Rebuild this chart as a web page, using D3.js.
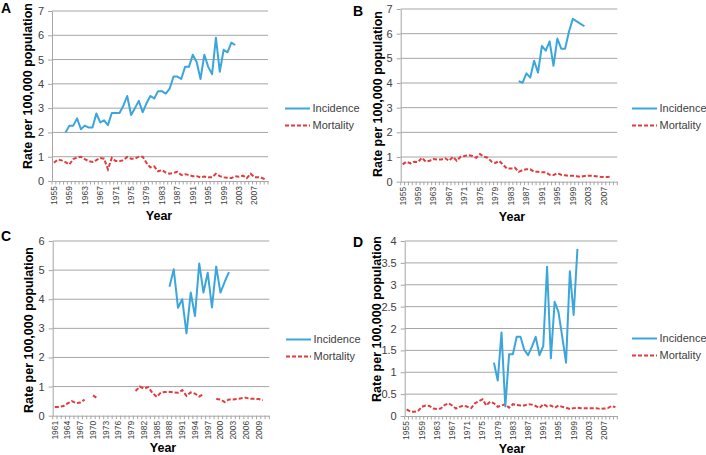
<!DOCTYPE html>
<html>
<head>
<meta charset="utf-8">
<script src="https://cdn.jsdelivr.net/npm/d3@7"></script>
<style>
  body { margin: 0; background: #fff; }
  text { font-family: "Liberation Sans", Arial, sans-serif; }
</style>
</head>
<body>
<div id="plot"></div>
<script>
// category slots on the year axis
const yearsABD = d3.range(1955, 2011);
const yearsC = d3.range(1961, 2012);

// tick labels
const labelsABD = [1955, 1959, 1963, 1967, 1971, 1975, 1979, 1983, 1987, 1991, 1995, 1999, 2003, 2007];
const labelsC = [1961, 1964, 1967, 1970, 1973, 1976, 1979, 1982, 1985, 1988, 1991, 1994, 1997, 2000, 2003, 2006, 2009];
const ticks07 = [0, 1, 2, 3, 4, 5, 6, 7];
const ticks06 = [0, 1, 2, 3, 4, 5, 6];
const ticks04 = [0, 0.5, 1, 1.5, 2, 2.5, 3, 3.5, 4];

// panel A (incidence from 1958, mortality from 1955)
const incidenceA = [2.0, 2.28, 2.28, 2.58, 2.13, 2.28, 2.2, 2.2, 2.78, 2.41, 2.5, 2.3, 2.8, 2.8, 2.8,
  3.1, 3.5, 2.72, 3.0, 3.3, 2.83, 3.2, 3.5, 3.4, 3.7, 3.7, 3.6, 3.8, 4.3, 4.3, 4.2, 4.7, 4.7, 5.2,
  4.9, 4.2, 5.2, 4.7, 4.4, 5.9, 4.5, 5.4, 5.3, 5.7, 5.6];
const mortalityA = [0.75, 0.88, 0.85, 0.78, 0.68, 0.9, 0.97, 1.0, 0.9, 0.82, 0.78, 0.86, 0.95, 0.92,
  0.48, 0.95, 0.82, 0.82, 0.85, 0.99, 0.92, 0.92, 1.0, 1.0, 0.75, 0.56, 0.6, 0.4, 0.45, 0.35, 0.3,
  0.33, 0.38, 0.25, 0.28, 0.25, 0.2, 0.2, 0.15, 0.18, 0.15, 0.15, 0.3, 0.2, 0.15, 0.13, 0.12, 0.2,
  0.18, 0.22, 0.12, 0.3, 0.15, 0.15, 0.12, 0.05];

// panel B (incidence from 1985, mortality from 1955)
const incidenceB = [4.08, 4.01, 4.39, 4.22, 4.9, 4.42, 5.5, 5.31, 5.69, 4.7, 5.8, 5.39, 5.39, 6.08,
  6.6, 6.5, 6.4, 6.3];
const mortalityB = [0.7, 0.81, 0.74, 0.81, 0.8, 0.97, 0.81, 0.85, 0.92, 0.9, 0.9, 0.95, 0.85, 1.01,
  0.85, 1.01, 1.04, 1.08, 1.04, 0.97, 1.12, 1.01, 0.97, 0.81, 0.76, 0.84, 0.68, 0.53, 0.53, 0.57,
  0.4, 0.47, 0.5, 0.5, 0.4, 0.4, 0.38, 0.38, 0.28, 0.27, 0.34, 0.28, 0.26, 0.24, 0.24, 0.22, 0.2,
  0.23, 0.24, 0.24, 0.22, 0.2, 0.19, 0.19, 0.22];

// panel C (incidence from 1988, mortality from 1961 with missing years)
const incidenceC = [4.43, 5.03, 3.71, 4.0, 2.83, 4.23, 3.42, 5.23, 4.23, 4.91, 3.72, 5.12, 4.23, 4.6, 4.93];
const mortalityC = [0.3, 0.3, 0.33, 0.42, 0.5, 0.43, 0.45, 0.55,
  null,
  0.7, 0.6,
  null, null, null, null, null, null, null, null,
  0.85, 1.0, 0.93, 0.98, 0.78, 0.65, 0.8, 0.81, 0.82, 0.8, 0.79, 0.88, 0.68, 0.8, 0.76, 0.66, 0.74,
  null, null,
  0.57, 0.56, 0.47, 0.56, 0.56, 0.58, 0.6, 0.62, 0.58, 0.58, 0.57, 0.53];

// panel D (incidence from 1978, mortality from 1955)
const incidenceD = [1.22, 0.81, 1.91, 0.22, 1.41, 1.41, 1.81, 1.81, 1.51, 1.39, 1.58, 1.81, 1.39, 1.6,
  3.41, 1.32, 2.61, 2.38, 1.81, 1.22, 3.31, 2.31, 3.82];
const mortalityD = [0.15, 0.1, 0.1, 0.11, 0.21, 0.24, 0.23, 0.17, 0.16, 0.17, 0.25, 0.29, 0.24, 0.17,
  0.21, 0.24, 0.21, 0.18, 0.29, 0.34, 0.38, 0.24, 0.33, 0.29, 0.21, 0.24, 0.27, 0.19, 0.27, 0.25,
  0.24, 0.24, 0.27, 0.26, 0.23, 0.18, 0.27, 0.22, 0.24, 0.19, 0.24, 0.21, 0.19, 0.16, 0.18, 0.19,
  0.18, 0.18, 0.18, 0.18, 0.18, 0.16, 0.17, 0.18, 0.23, 0.2];

const seriesNames = ["Incidence", "Mortality"];
const incColor = "#3ba6dc";
const mortColor = "#e23b3f";
const gridColor = "#a6a6a6";

const svg = d3.select("#plot")
  .append("svg")
  .attr("width", 706)
  .attr("height", 455);

const panels = [
  { letter: "A", x0: 52, x1: 268, yTop: 11, yBot: 181, yMax: 7, yTicks: ticks07,
    years: yearsABD, labels: labelsABD,
    inc: { start: 1958, values: incidenceA }, mort: { start: 1955, values: mortalityA },
    letterPos: [1, 13], yTitlePos: [28, 86], xTitlePos: [159, 220], legendPos: [285, 108.5] },
  { letter: "B", x0: 400.7, x1: 617.3, yTop: 9, yBot: 181.7, yMax: 7, yTicks: ticks07,
    years: yearsABD, labels: labelsABD,
    inc: { start: 1985, values: incidenceB }, mort: { start: 1955, values: mortalityB },
    letterPos: [353, 16], yTitlePos: [378, 94], xTitlePos: [512, 220.5], legendPos: [632, 108.5] },
  { letter: "C", x0: 52.7, x1: 269.3, yTop: 241, yBot: 415.7, yMax: 6, yTicks: ticks06,
    years: yearsC, labels: labelsC,
    inc: { start: 1988, values: incidenceC }, mort: { start: 1961, values: mortalityC },
    letterPos: [1, 241], yTitlePos: [28.3, 330], xTitlePos: [163, 452], legendPos: [286, 339.5] },
  { letter: "D", x0: 404.7, x1: 617.3, yTop: 241, yBot: 416, yMax: 4, yTicks: ticks04,
    years: yearsABD, labels: labelsABD,
    inc: { start: 1978, values: incidenceD }, mort: { start: 1955, values: mortalityD },
    letterPos: [353, 247], yTitlePos: [376.3, 319], xTitlePos: [512, 453], legendPos: [632, 338.5] }
];

panels.forEach(p => {
  const g = svg.append("g");

  const x = d3.scaleBand()
    .domain(p.years)
    .range([p.x0, p.x1]);

  const y = d3.scaleLinear()
    .domain([0, p.yMax])
    .range([p.yBot, p.yTop]);

  const cx = yr => x(yr) + x.bandwidth() / 2;

  // gridlines
  g.selectAll(".grid")
    .data(p.yTicks.filter(t => t > 0))
    .enter()
    .append("line")
    .attr("x1", p.x0)
    .attr("x2", p.x1)
    .attr("y1", d => y(d))
    .attr("y2", d => y(d))
    .attr("stroke", gridColor)
    .attr("stroke-width", 1);

  // y axis
  const yAxis = g.append("g")
    .attr("transform", `translate(${p.x0},0)`)
    .call(d3.axisLeft(y).tickValues(p.yTicks).tickSize(4).tickSizeOuter(0).tickPadding(4)
      .tickFormat(d3.format("")));
  yAxis.select(".domain").attr("stroke", gridColor);
  yAxis.selectAll(".tick line").attr("stroke", gridColor);
  yAxis.selectAll("text")
    .attr("fill", "#404040")
    .style("font-size", "11px");

  // x axis, labels at category centres
  const xAxis = g.append("g")
    .attr("transform", `translate(0,${p.yBot})`)
    .call(d3.axisBottom(x).tickValues(p.labels).tickSize(0).tickSizeOuter(0));
  xAxis.select(".domain").attr("stroke", gridColor);
  xAxis.selectAll("text")
    .attr("transform", "rotate(-90)")
    .attr("x", -5)
    .attr("y", 0)
    .attr("dy", "0.34em")
    .attr("fill", "#404040")
    .style("text-anchor", "end")
    .style("font-size", "8.5px");

  // tick marks between categories
  g.selectAll(".xtick")
    .data(p.years.concat([null]))
    .enter()
    .append("line")
    .attr("x1", d => d === null ? p.x1 : x(d))
    .attr("x2", d => d === null ? p.x1 : x(d))
    .attr("y1", p.yBot)
    .attr("y2", p.yBot + 3.5)
    .attr("stroke", gridColor)
    .attr("stroke-width", 1);

  // lines
  const line = d3.line()
    .defined(d => d.v !== null)
    .x(d => cx(d.year))
    .y(d => y(d.v));

  const mortData = p.mort.values.map((v, i) => ({ year: p.mort.start + i, v: v }));
  const incData = p.inc.values.map((v, i) => ({ year: p.inc.start + i, v: v }));

  g.append("path")
    .datum(mortData)
    .attr("d", line)
    .attr("fill", "none")
    .attr("stroke", mortColor)
    .attr("stroke-width", 2)
    .attr("stroke-dasharray", "4,2");

  g.append("path")
    .datum(incData)
    .attr("d", line)
    .attr("fill", "none")
    .attr("stroke", incColor)
    .attr("stroke-width", 2)
    .attr("stroke-linejoin", "round");

  // legend
  const lg = g.append("g")
    .attr("transform", `translate(${p.legendPos[0]},${p.legendPos[1]})`);
  seriesNames.forEach((name, i) => {
    lg.append("line")
      .attr("x1", 0)
      .attr("x2", 25)
      .attr("y1", i * 17)
      .attr("y2", i * 17)
      .attr("stroke", i === 0 ? incColor : mortColor)
      .attr("stroke-width", 2)
      .attr("stroke-dasharray", i === 0 ? null : "4,2");
    lg.append("text")
      .attr("x", 27.5)
      .attr("y", i * 17)
      .attr("dy", "0.35em")
      .attr("fill", "#404040")
      .style("font-size", "11px")
      .text(name);
  });

  // titles
  g.append("text")
    .attr("transform", `translate(${p.yTitlePos[0]},${p.yTitlePos[1]}) rotate(-90)`)
    .attr("text-anchor", "middle")
    .attr("dy", "0.35em")
    .style("font-size", "12.5px")
    .style("font-weight", "bold")
    .text("Rate per 100,000 population");

  g.append("text")
    .attr("x", p.xTitlePos[0])
    .attr("y", p.xTitlePos[1])
    .attr("text-anchor", "middle")
    .style("font-size", "12.5px")
    .style("font-weight", "bold")
    .text("Year");

  g.append("text")
    .attr("x", p.letterPos[0])
    .attr("y", p.letterPos[1])
    .style("font-size", "14px")
    .style("font-weight", "bold")
    .text(p.letter);
});
</script>
</body>
</html>
